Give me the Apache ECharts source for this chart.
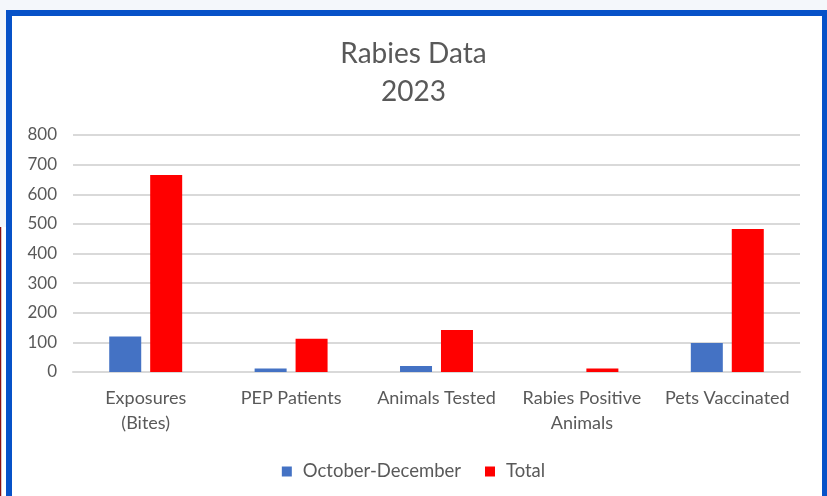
<!DOCTYPE html>
<html>
<head>
<meta charset="utf-8">
<title>Rabies Data 2023</title>
<script src="https://cdn.jsdelivr.net/npm/echarts@6/dist/echarts.min.js"></script>
<style>
  html, body { margin: 0; padding: 0; background: #f4f7fb; }
  #chart { width: 827px; height: 496px; }
</style>
</head>
<body>
<div id="chart"></div>
<script>
// categories and values
var categories = ['Exposures\n(Bites)', 'PEP Patients', 'Animals Tested', 'Rabies Positive\nAnimals', 'Pets Vaccinated'];
var octDec = [120, 12, 20, 0, 98];
var total = [665, 112, 142, 12, 483];
var yTicks = [0, 800, 100]; // min, max, step

var textColor = '#595959';
var fontName = 'Lato';

var myChart = echarts.init(document.getElementById('chart'));

var option = {
    backgroundColor: 'transparent',
    textStyle: { fontFamily: fontName },
    // frame round the chart
    graphic: [
        { type: 'rect', shape: { x: 9, y: 13, width: 816, height: 490 }, z: -10,
          style: { fill: '#ffffff', stroke: '#0752c8', lineWidth: 6 } },
        { type: 'rect', shape: { x: 0, y: 227, width: 6, height: 269 }, z: -10,
          style: { fill: '#ffffff' } },
        { type: 'line', shape: { x1: 0.5, y1: 227, x2: 0.5, y2: 496 }, z: -10,
          style: { stroke: '#8b1010', lineWidth: 1.5 } }
    ],
    title: {
        text: 'Rabies Data\n2023',
        left: 'center',
        top: 30,
        textStyle: { fontFamily: fontName, fontSize: 28, fontWeight: 'normal', color: textColor, lineHeight: 38 }
    },
    legend: {
        data: ['October-December', 'Total'],
        left: 'center',
        top: 457,
        itemWidth: 10,
        itemHeight: 10,
        itemGap: 24,
        icon: 'rect',
        textStyle: { fontFamily: fontName, fontSize: 18.5, color: textColor, padding: [0, 0, 0, 6] }
    },
    grid: { left: 73, right: 27, top: 135, bottom: 124 },
    xAxis: {
        type: 'category',
        data: categories,
        axisLine: { lineStyle: { color: '#d9d9d9', width: 2 } },
        axisTick: { show: false },
        axisLabel: { fontFamily: fontName, fontSize: 18, color: textColor, lineHeight: 25, margin: 14, interval: 0 }
    },
    yAxis: {
        type: 'value',
        min: yTicks[0],
        max: yTicks[1],
        interval: yTicks[2],
        axisLine: { show: false },
        axisTick: { show: false },
        splitLine: { lineStyle: { color: '#d9d9d9', width: 2 } },
        axisLabel: { fontFamily: fontName, fontSize: 17, color: textColor, margin: 16 }
    },
    series: [
        { name: 'October-December', type: 'bar', data: octDec, barWidth: 32, barGap: '28%',
          itemStyle: { color: '#4472c4' } },
        { name: 'Total', type: 'bar', data: total, barWidth: 32,
          itemStyle: { color: '#ff0000' } }
    ]
};

myChart.setOption(option);
</script>
</body>
</html>
